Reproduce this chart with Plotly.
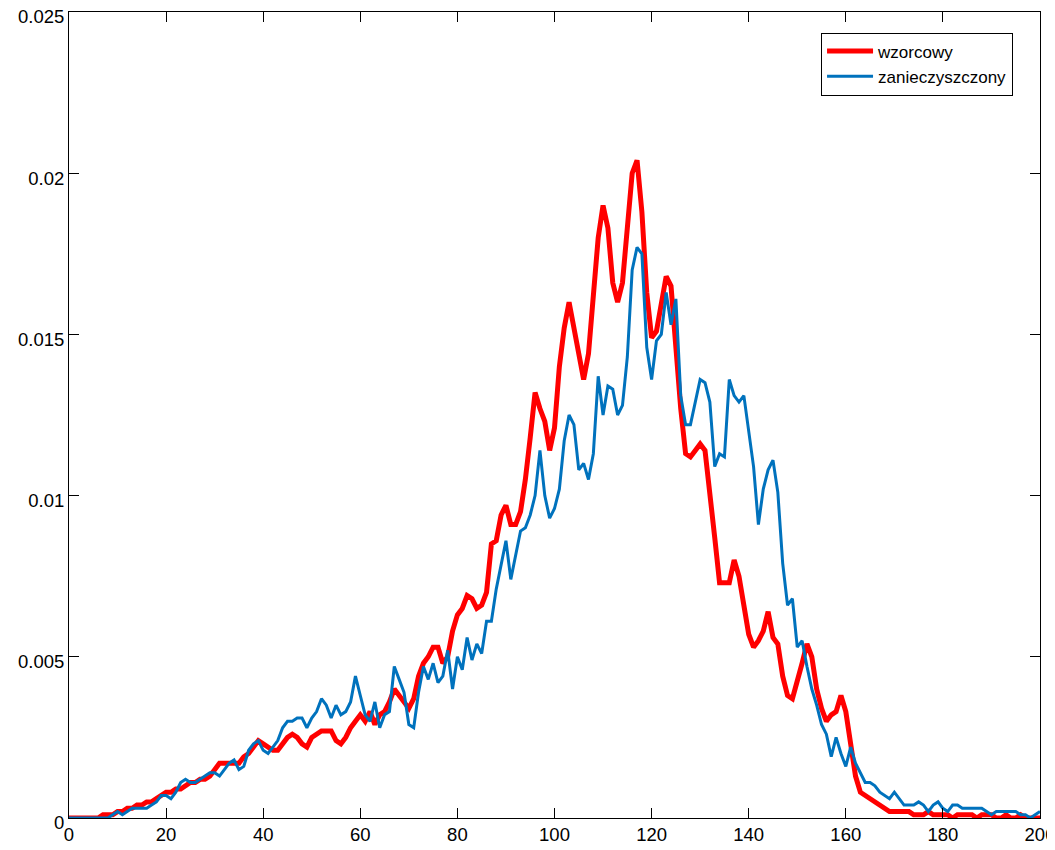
import plotly.graph_objects as go

x = list(range(0, 201))

wzorcowy = [
    0.0000, 0.0000, 0.0000, 0.0000, 0.0000, 0.0000, 0.0000, 0.0001, 0.0001, 0.0001,  # 0-9
    0.0002, 0.0002, 0.0003, 0.0003, 0.0004, 0.0004, 0.0005, 0.0005, 0.0006, 0.0007,  # 10-19
    0.0008, 0.0008, 0.0009, 0.0009, 0.0010, 0.0011, 0.0011, 0.0012, 0.0012, 0.0013,  # 20-29
    0.0015, 0.0017, 0.0017, 0.0017, 0.0017, 0.0017, 0.0019, 0.0020, 0.0022, 0.0024,  # 30-39
    0.0023, 0.0022, 0.0021, 0.0021, 0.0023, 0.0025, 0.0026, 0.0025, 0.0023, 0.0022,  # 40-49
    0.0025, 0.0026, 0.0027, 0.0027, 0.0027, 0.0024, 0.0023, 0.0025, 0.0028, 0.0030,  # 50-59
    0.0032, 0.0030, 0.0033, 0.0029, 0.0032, 0.0033, 0.0036, 0.0040, 0.0038, 0.0036,  # 60-69
    0.0034, 0.0037, 0.0044, 0.0048, 0.0050, 0.0053, 0.0053, 0.0048, 0.0050, 0.0058,  # 70-79
    0.0063, 0.0065, 0.0069, 0.0068, 0.0065, 0.0066, 0.0070, 0.0085, 0.0086, 0.0094,  # 80-89
    0.0097, 0.0091, 0.0091, 0.0095, 0.0105, 0.0118, 0.0132, 0.0127, 0.0123, 0.0114,  # 90-99
    0.0121, 0.0140, 0.0152, 0.0160, 0.0152, 0.0144, 0.0136, 0.0144, 0.0163, 0.0180,  # 100-109
    0.0190, 0.0183, 0.0166, 0.0160, 0.0166, 0.0184, 0.0200, 0.0204, 0.0188, 0.0163,  # 110-119
    0.0149, 0.0151, 0.0160, 0.0168, 0.0165, 0.0146, 0.0127, 0.0113, 0.0112, 0.0114,  # 120-129
    0.0116, 0.0114, 0.0102, 0.0087, 0.0073, 0.0073, 0.0073, 0.0080, 0.0075, 0.0066,  # 130-139
    0.0057, 0.0053, 0.0055, 0.0058, 0.0064, 0.0056, 0.0054, 0.0044, 0.0038, 0.0037,  # 140-149
    0.0042, 0.0048, 0.0054, 0.0050, 0.0040, 0.0034, 0.0030, 0.0032, 0.0033, 0.0038,  # 150-159
    0.0033, 0.0022, 0.0013, 0.0008, 0.0007, 0.0006, 0.0005, 0.0004, 0.0003, 0.0002,  # 160-169
    0.0002, 0.0002, 0.0002, 0.0002, 0.0001, 0.0001, 0.0001, 0.0002, 0.0001, 0.0001,  # 170-179
    0.0001, 0.0001, 0.0000, 0.0001, 0.0001, 0.0001, 0.0001, 0.0000, 0.0001, 0.0001,  # 180-189
    0.0001, 0.0000, 0.0000, 0.0001, 0.0000, 0.0000, 0.0001, 0.0000, 0.0000, 0.0000,  # 190-199
    0.0000,  # 200
]

zanieczyszczony = [
    0.0000, 0.0000, 0.0000, 0.0000, 0.0000, 0.0000, 0.0000, 0.0000, 0.0000, 0.0001,  # 0-9
    0.0002, 0.0001, 0.0002, 0.0003, 0.0003, 0.0003, 0.0003, 0.0004, 0.0005, 0.0007,  # 10-19
    0.0007, 0.0006, 0.0008, 0.0011, 0.0012, 0.0011, 0.0011, 0.0012, 0.0013, 0.0014,  # 20-29
    0.0014, 0.0013, 0.0015, 0.0017, 0.0018, 0.0015, 0.0016, 0.0021, 0.0023, 0.0024,  # 30-39
    0.0021, 0.0020, 0.0022, 0.0024, 0.0028, 0.0030, 0.0030, 0.0031, 0.0031, 0.0028,  # 40-49
    0.0031, 0.0033, 0.0037, 0.0035, 0.0031, 0.0035, 0.0032, 0.0033, 0.0036, 0.0044,  # 50-59
    0.0038, 0.0032, 0.0030, 0.0036, 0.0028, 0.0032, 0.0033, 0.0047, 0.0043, 0.0039,  # 60-69
    0.0029, 0.0028, 0.0039, 0.0047, 0.0043, 0.0048, 0.0042, 0.0044, 0.0052, 0.0040,  # 70-79
    0.0050, 0.0046, 0.0056, 0.0049, 0.0054, 0.0051, 0.0061, 0.0061, 0.0071, 0.0079,  # 80-89
    0.0086, 0.0074, 0.0081, 0.0089, 0.0090, 0.0094, 0.0100, 0.0114, 0.0100, 0.0093,  # 90-99
    0.0096, 0.0102, 0.0117, 0.0125, 0.0122, 0.0108, 0.0110, 0.0105, 0.0113, 0.0137,  # 100-109
    0.0125, 0.0134, 0.0133, 0.0125, 0.0128, 0.0143, 0.0170, 0.0177, 0.0175, 0.0146,  # 110-119
    0.0136, 0.0148, 0.0150, 0.0163, 0.0153, 0.0161, 0.0131, 0.0122, 0.0122, 0.0129,  # 120-129
    0.0136, 0.0135, 0.0129, 0.0109, 0.0113, 0.0112, 0.0136, 0.0131, 0.0129, 0.0131,  # 130-139
    0.0120, 0.0109, 0.0091, 0.0102, 0.0108, 0.0111, 0.0101, 0.0079, 0.0066, 0.0068,  # 140-149
    0.0053, 0.0055, 0.0047, 0.0040, 0.0035, 0.0029, 0.0026, 0.0019, 0.0025, 0.0020,  # 150-159
    0.0016, 0.0022, 0.0017, 0.0014, 0.0011, 0.0011, 0.0010, 0.0008, 0.0007, 0.0006,  # 160-169
    0.0008, 0.0006, 0.0004, 0.0004, 0.0004, 0.0005, 0.0004, 0.0002, 0.0004, 0.0005,  # 170-179
    0.0003, 0.0002, 0.0004, 0.0004, 0.0003, 0.0003, 0.0003, 0.0003, 0.0003, 0.0002,  # 180-189
    0.0001, 0.0002, 0.0002, 0.0002, 0.0002, 0.0002, 0.0001, 0.0001, 0.0000, 0.0001,  # 190-199
    0.0002,  # 200
]

x_ticks = [0, 20, 40, 60, 80, 100, 120, 140, 160, 180, 200]
y_ticks = [0, 0.005, 0.01, 0.015, 0.02, 0.025]
y_tick_text = ["0", "0.005", "0.01", "0.015", "0.02", "0.025"]

fig = go.Figure()
fig.add_trace(go.Scatter(x=x, y=wzorcowy, mode="lines", name="wzorcowy",
                         line=dict(color="#FF0000", width=5)))
fig.add_trace(go.Scatter(x=x, y=zanieczyszczony, mode="lines", name="zanieczyszczony",
                         line=dict(color="#0072BD", width=3)))

axis_common = dict(showline=True, linecolor="black", linewidth=1, mirror="ticks",
                   ticks="inside", ticklen=10, tickcolor="black", showgrid=False,
                   zeroline=False, automargin=False, ticklabeloverflow="allow",
                   tickfont=dict(size=18.5, color="black"))

fig.update_layout(
    width=1047, height=842,
    margin=dict(l=61, r=15, t=4, b=32),
    paper_bgcolor="white", plot_bgcolor="white",
    font=dict(family="Liberation Sans, Arial, sans-serif", size=18, color="black"),
    xaxis=dict(range=[0, 200], tickvals=x_ticks, **axis_common),
    yaxis=dict(range=[0, 0.025], tickvals=y_ticks, ticktext=y_tick_text,
               ticklabelshift=5, **axis_common),
    legend=dict(x=0.7745, y=0.9745, xanchor="left", yanchor="top",
                bordercolor="black", borderwidth=1, bgcolor="white",
                font=dict(size=17), tracegroupgap=0, itemwidth=46),
    showlegend=True,
)

fig.write_html("out.html")
